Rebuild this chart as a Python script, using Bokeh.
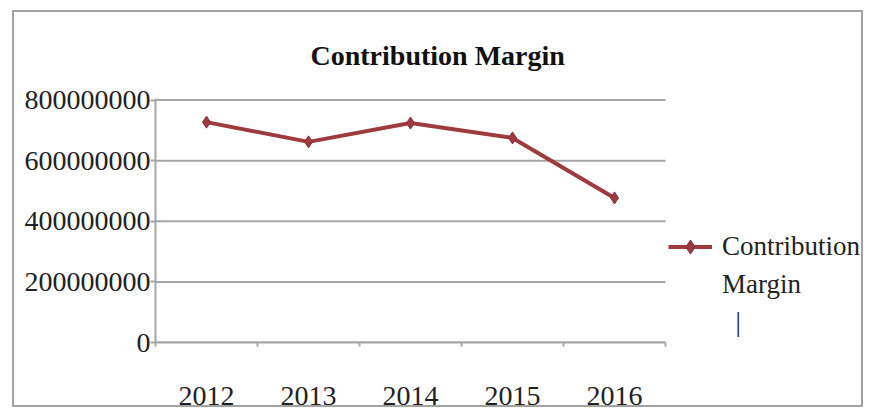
from bokeh.plotting import figure
from bokeh.models import (Range1d, FixedTicker, BasicTickFormatter,
                          Legend, LegendItem, Title, InlineStyleSheet)
from bokeh.embed import file_html
from bokeh.resources import INLINE

years = ["2012", "2013", "2014", "2015", "2016"]
contribution_margin = [727000000, 662000000, 724000000, 675000000, 477000000]
y_ticks = [0, 200000000, 400000000, 600000000, 800000000]
legend_lines = ["Contribution", "Margin", "\u2002|"]
chart_title = "Contribution Margin"

SERIF = "Liberation Serif"
RED = "#9e3b3f"
GRID = "#a6a6a6"

# layout constants (pixels)
W, H = 870, 412
LEFT, TOP, BOTTOM = 155, 98, 70
CAT_PX = 102  # width of one category band

x_pos = list(range(len(years)))
x_lo, x_hi = -0.5, len(years) - 0.5
x_end = x_lo + (W - LEFT) / CAT_PX

p = figure(width=W, height=H, output_backend="svg", toolbar_location=None,
           x_range=Range1d(x_lo, x_end),
           y_range=Range1d(0, 805000000),
           min_border_left=LEFT, min_border_right=0, min_border_top=TOP,
           min_border_bottom=BOTTOM)
p.outline_line_color = None
p.background_fill_color = "white"
p.border_fill_color = "white"

# outer chart border
p.stylesheets = [InlineStyleSheet(css=(
    ":host::after { content: ''; position: absolute; left: 12px; top: 10px; "
    "width: 851px; height: 397px; border: 2px solid #a3a3a3; box-sizing: border-box; "
    "pointer-events: none; }"))]

# y axis
p.yaxis.ticker = FixedTicker(ticks=y_ticks)
p.yaxis.formatter = BasicTickFormatter(use_scientific=False)
p.yaxis.major_label_text_font = SERIF
p.yaxis.major_label_text_font_size = "28px"
p.yaxis.major_label_text_color = "#222222"
p.yaxis.axis_line_color = GRID
p.yaxis.axis_line_width = 2
p.yaxis.major_tick_line_color = GRID
p.yaxis.major_tick_line_width = 2
p.yaxis.major_tick_out = 5
p.yaxis.major_tick_in = 0
p.yaxis.major_label_standoff = 0
p.yaxis.minor_tick_line_color = None

# x axis (categories at integer positions, ticks at band boundaries)
p.xaxis.ticker = FixedTicker(ticks=x_pos, minor_ticks=[i - 0.5 for i in range(len(years) + 1)])
p.xaxis.major_label_overrides = {i: y for i, y in zip(x_pos, years)}
p.xaxis.bounds = (x_lo, x_hi)
p.xaxis.major_label_text_font = SERIF
p.xaxis.major_label_text_font_size = "28px"
p.xaxis.major_label_text_color = "#222222"
p.xaxis.axis_line_color = GRID
p.xaxis.axis_line_width = 2
p.xaxis.major_tick_line_color = None
p.xaxis.major_tick_out = 0
p.xaxis.minor_tick_line_color = GRID
p.xaxis.minor_tick_line_width = 2
p.xaxis.minor_tick_out = 4
p.xaxis.minor_tick_in = 0
p.xaxis.major_label_standoff = 40

p.xgrid.visible = False
p.ygrid.visible = False
# horizontal gridlines spanning the category area only
p.segment(x0=[x_lo] * len(y_ticks), x1=[x_hi] * len(y_ticks), y0=y_ticks, y1=y_ticks,
          line_color=GRID, line_width=2)

line = p.line(x_pos, contribution_margin, line_color=RED, line_width=4)
pts = p.scatter(x_pos, contribution_margin, marker="diamond", size=12,
                fill_color=RED, line_color="#86303a")

items = [LegendItem(label=legend_lines[0], renderers=[line, pts])]
items += [LegendItem(label=t, renderers=[]) for t in legend_lines[1:]]
legend = Legend(items=items, location=(513, 2), padding=0, margin=0, spacing=3,
                border_line_color=None, background_fill_alpha=0,
                glyph_width=44, glyph_height=35, label_height=35, label_standoff=10,
                label_text_font=SERIF, label_text_font_size="27px",
                label_text_color="#222222")
p.add_layout(legend, "center")

p.title = Title(text=chart_title, text_font=SERIF, text_font_size="28px",
                text_font_style="bold", align="left", offset=155,
                vertical_align="top", standoff=52, text_color="#111111")

open("out.html", "w").write(file_html(p, INLINE))
